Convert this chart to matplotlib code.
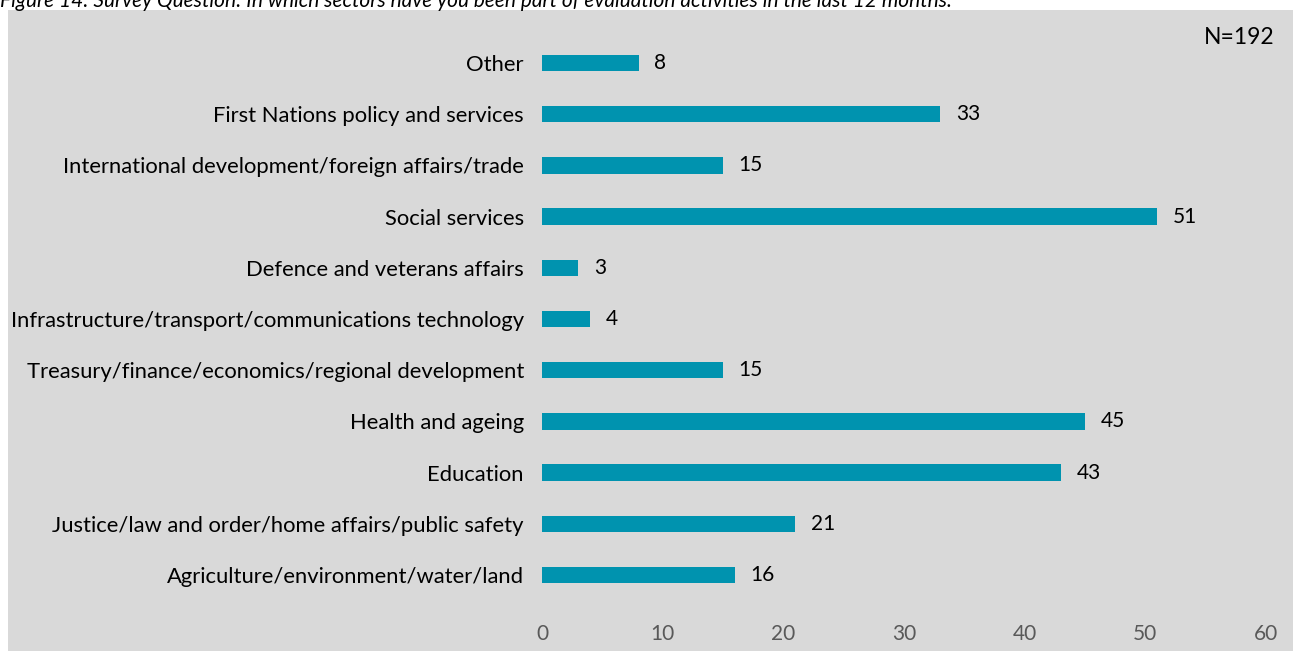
import matplotlib
matplotlib.use("Agg")
import matplotlib.pyplot as plt
from matplotlib.patches import Rectangle

# sectors, bottom to top
sectors = [
    "Agriculture/environment/water/land",
    "Justice/law and order/home affairs/public safety",
    "Education",
    "Health and ageing",
    "Treasury/finance/economics/regional development",
    "Infrastructure/transport/communications technology",
    "Defence and veterans affairs",
    "Social services",
    "International development/foreign affairs/trade",
    "First Nations policy and services",
    "Other",
]
counts = [16, 21, 43, 45, 15, 4, 3, 51, 15, 33, 8]
xticks = [0, 10, 20, 30, 40, 50, 60]

plt.rcParams["font.family"] = ["Lato", "DejaVu Sans"]

fig = plt.figure(figsize=(12.93, 6.51), dpi=100, facecolor="white")
# grey chart area behind the axes
fig.patches.append(Rectangle((8 / 1293, 0), 1, 1 - 10 / 651, transform=fig.transFigure,
                             facecolor="#d9d9d9", edgecolor="none", zorder=-5))
fig.text(0.0, 1 - 1 / 651,
         "Figure 14: Survey Question: In which sectors have you been part of evaluation activities in the last 12 months.",
         style="italic", fontsize=15, va="center", ha="left", color="black")

ax = fig.add_axes([0.4192, 0.0774, 0.9791 - 0.4192, 0.9426 - 0.0774])
ax.set_zorder(2)
ax.set_facecolor("none")
y = range(len(sectors))
ax.barh(y, counts, height=0.32, color="#0093af")
for yi, c in zip(y, counts):
    ax.text(c + 1.3, yi, str(c), va="center", ha="left", fontsize=15, color="black")

ax.set_xlim(0, 60)
ax.set_ylim(-0.5, len(sectors) - 0.5)
ax.set_xticks(xticks)
ax.set_xticklabels([str(t) for t in xticks], fontsize=15, color="#595959")
ax.set_yticks(list(y))
ax.set_yticklabels(sectors, fontsize=15.8, color="black")
ax.tick_params(axis="both", length=0)
ax.tick_params(axis="x", pad=17)
ax.tick_params(axis="y", pad=13)
for s in ax.spines.values():
    s.set_visible(False)

fig.text(1 - 18 / 1293, 1 - 37 / 651, "N=192", ha="right", va="center", fontsize=16.5)

fig.savefig("out.png", dpi=100, facecolor="white")
